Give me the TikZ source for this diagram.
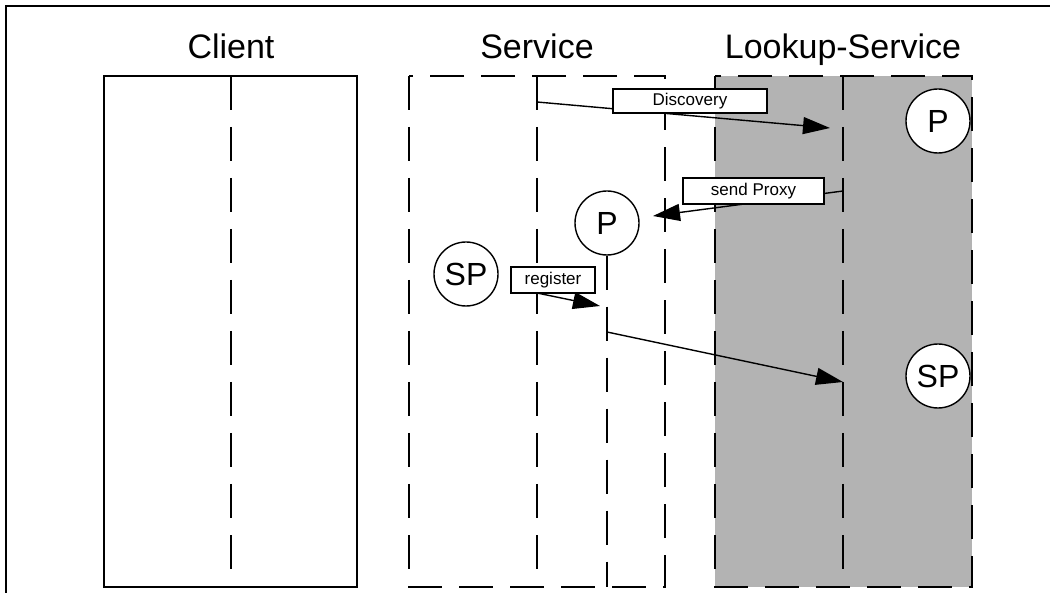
\documentclass[tikz,border=0pt]{standalone}
\usepackage{fontspec}
\setmainfont{Liberation Sans}
\usetikzlibrary{arrows.meta}
\definecolor{lookupgray}{RGB}{179,179,179}
\begin{document}
\begin{tikzpicture}[x=1pt, y=-1pt, line width=1.4pt,
    lifeline/.style={dash pattern=on 34pt off 17pt},
    msg/.style={-{Triangle[length=27pt,width=17pt]}},
    msglabel/.style={draw, fill=white, inner sep=0pt, font=\fontsize{17}{20}\selectfont},
    object/.style={circle, draw, fill=white, inner sep=0pt, minimum size=64pt, font=\fontsize{32}{38}\selectfont},
    title/.style={anchor=base, font=\fontsize{34}{40}\selectfont}]
    \useasboundingbox (0,0) rectangle (1050,593);

    % Draw frame
    \draw[line width=2pt] (1050,6) -- (6,6) -- (6,593);

    % Draw column titles
    \node[title] (client title) at (231,59) {Client};
    \node[title] (service title) at (537,59) {Service};
    \node[title] (lookup title) at (843,59) {Lookup-Service};

    % Draw client column
    \draw (104,76) rectangle (357,587);
    \draw[lifeline] (231,76) -- (231,587);

    % Draw service column
    \draw[lifeline] (409,76) rectangle (665,587);
    \draw[lifeline] (537,76) -- (537,587);

    % Draw lookup-service column
    \fill[lookupgray] (715,76) rectangle (972,587);
    \draw[lifeline] (715,76) rectangle (972,587);
    \draw[lifeline] (843,76) -- (843,587);

    % Draw objects
    \node[object] (lookup proxy) at (938,121) {P};
    \node[object] (service proxy) at (607,223) {P};
    \node[object] (service sp) at (466,274) {SP};
    \node[object] (lookup sp) at (938,376) {SP};
    \draw[lifeline] (service proxy.south) -- (607,587);

    % Message end points
    \coordinate (discovery start) at (537,102);
    \coordinate (discovery end) at (830,128);
    \coordinate (proxy start) at (843,191);
    \coordinate (proxy end) at (653,216);
    \coordinate (register start) at (537,293);
    \coordinate (register end) at (600,306);
    \coordinate (sp start) at (607,332);
    \coordinate (sp end) at (843,382);

    % Draw messages
    \draw[msg] (discovery start) -- (discovery end);
    \draw[msg] (proxy start) -- (proxy end);
    \draw[msg] (register start) -- (register end);
    \draw[msg] (sp start) -- (sp end);

    % Message labels
    \node[msglabel, minimum width=154pt, minimum height=24pt] (discovery label) at (690,101) {Discovery};
    \node[msglabel, minimum width=141pt, minimum height=26pt] (proxy label) at (753.5,191) {send Proxy};
    \node[msglabel, minimum width=84pt, minimum height=26pt] (register label) at (553,280) {register};
\end{tikzpicture}
\end{document}
